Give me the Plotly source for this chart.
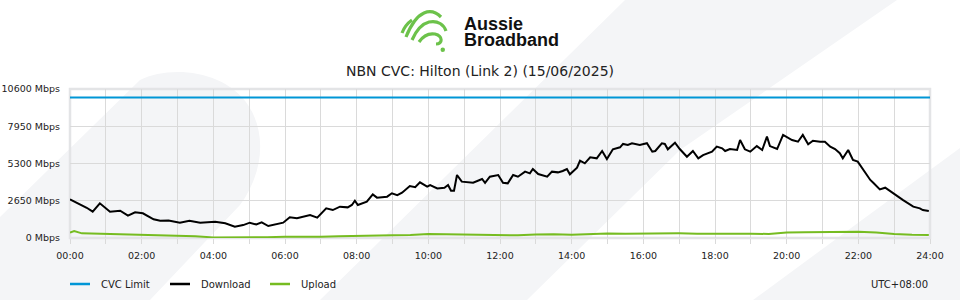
import plotly.graph_objects as go

# ---------------- data ----------------
download_times = ["00:00","00:15","00:28","00:38","00:50","01:07","01:24","01:37","01:49","02:02",
    "02:20","02:31","02:45","03:04","03:20","03:38","04:03","04:20","04:36","04:50","05:01","05:12",
    "05:21","05:32","05:45","05:57","06:08","06:20","06:42","06:54","07:09","07:20","07:32","07:45",
    "07:52","07:57","08:02","08:17","08:27","08:34","08:51","08:59","09:08","09:16","09:29","09:38",
    "09:46","09:58","10:03","10:15","10:27","10:33","10:38","10:43","10:48","10:56","11:15","11:30",
    "11:35","11:43","11:57","12:05","12:13","12:22","12:30","12:42","12:50","12:55","13:04","13:19",
    "13:27","13:37","13:45","13:52","13:57","14:09","14:14","14:22","14:31","14:42","14:51","14:59",
    "15:09","15:21","15:26","15:34","15:41","15:54","16:06","16:15","16:20","16:31","16:36","16:41",
    "16:53","17:01","17:13","17:23","17:32","17:40","17:55","18:03","18:12","18:17","18:25","18:37",
    "18:42","18:50","18:59","19:10","19:19","19:27","19:32","19:44","19:54","20:02","20:09","20:19",
    "20:27","20:36","20:44","20:56","21:04","21:13","21:21","21:29","21:34","21:43","21:51","21:59",
    "22:08","22:20","22:25","22:36","22:45","22:58","23:15","23:32","23:43","23:48","23:58"]
download = [2750,2450,2150,1870,2470,1870,1940,1590,1830,1760,
    1330,1230,1250,1090,1230,1090,1160,1050,800,920,1090,960,
    1110,850,1000,1090,1470,1400,1640,1450,2110,1990,2230,2180,
    2350,2650,2350,2580,3100,2870,2940,3180,3050,3220,3700,3610,
    3960,3650,3770,3530,3580,3770,3360,3360,4480,4010,3930,4200,
    3930,4360,4480,3930,3890,4480,4360,4720,4600,4910,4550,4360,
    4720,4670,4770,4910,4530,5000,5500,5310,5740,5670,6190,5620,
    6310,6450,6690,6620,6740,6620,6740,6140,6190,6740,6690,6310,
    6780,6330,5780,6190,5670,5900,6140,6500,6380,6190,6330,6260,
    6970,6310,6140,6540,6260,7210,6540,6330,7330,7140,6970,6850,
    7330,6670,6920,6850,6850,6500,6330,6030,5670,6260,5550,5430,
    4840,4130,3930,3460,3580,3180,2700,2230,2110,1990,1920]

upload_times = ["00:00","00:07","00:20","00:45","01:10","01:30","02:00","02:30","03:00","03:30",
    "04:00","04:30","05:00","05:30","06:00","06:30","07:00","07:30","08:00","08:30","09:00","09:30",
    "10:00","10:30","11:00","11:30","12:00","12:30","13:00","13:30","14:00","14:30","15:00","15:30",
    "16:00","16:30","17:00","17:30","18:00","18:30","19:00","19:30","20:00","20:30","21:00","21:30",
    "22:00","22:30","23:00","23:30","23:58"]
upload = [380,500,330,300,280,260,220,200,150,130,
    40,30,50,60,90,80,90,120,160,170,190,210,
    280,270,250,180,170,190,250,270,230,300,320,310,
    330,320,330,310,320,340,300,290,400,410,420,470,
    440,400,280,230,210]

cvc_times = ["00:00", "24:00"]
cvc_limit = [10000, 10000]

y_ticks = [0, 2650, 5300, 7950, 10600]
y_tick_labels = ["0 Mbps", "2650 Mbps", "5300 Mbps", "7950 Mbps", "10600 Mbps"]
x_ticks = list(range(0, 25, 2))
x_tick_labels = ["00:00","02:00","04:00","06:00","08:00","10:00","12:00","14:00",
                 "16:00","18:00","20:00","22:00","24:00"]

title_text = "NBN CVC: Hilton (Link 2) (15/06/2025)"
series_names = ["CVC Limit", "Download", "Upload"]
series_colors = ["#0096d6", "#000000", "#76bc21"]

# ---------------- layout helpers ----------------
W, H = 960, 300
ML, MR, MT, MB = 70, 30, 89, 62
PW, PH = W - ML - MR, H - MT - MB


def hours(t):
    h, m = t.split(":")
    return int(h) + int(m) / 60.0


def px(x, y):
    return (x - ML) / PW, (H - MB - y) / PH


def path(points, close=True):
    out = []
    for p in points:
        if p[0] == "C":
            a = px(*p[1]); b = px(*p[2]); c = px(*p[3])
            out.append("C %.5f,%.5f %.5f,%.5f %.5f,%.5f" % (a[0], a[1], b[0], b[1], c[0], c[1]))
        elif p[0] == "Q":
            a = px(*p[1]); b = px(*p[2])
            out.append("Q %.5f,%.5f %.5f,%.5f" % (a[0], a[1], b[0], b[1]))
        else:
            a = px(*p[1])
            out.append("%s %.5f,%.5f" % (p[0], a[0], a[1]))
    s = " ".join(out)
    return s + (" Z" if close else "")


FONT = "DejaVu Sans"
TXT = "#222222"
GRID = "#dadada"
BG = "#f4f5f7"
LOGO_GREEN = "#6cc24a"

fig = go.Figure()
for name, color, tx, ty in [
    (series_names[0], series_colors[0], cvc_times, cvc_limit),
    (series_names[1], series_colors[1], download_times, download),
    (series_names[2], series_colors[2], upload_times, upload),
]:
    fig.add_trace(go.Scatter(x=[hours(t) for t in tx], y=ty, mode="lines", name=name,
                             line=dict(color=color, width=2), hoverinfo="skip"))

shapes = []
# background decorative shapes
shapes.append(dict(type="path", xref="paper", yref="paper", layer="below",
    path=path([("M", (0, 217)), ("L", (140, 80)), ("C", (170, 65), (225, 70), (248, 105)),
               ("C", (268, 135), (262, 175), (240, 205)), ("L", (150, 300)), ("L", (0, 300))]),
    fillcolor=BG, line=dict(width=0)))
shapes.append(dict(type="path", xref="paper", yref="paper", layer="below",
    path=path([("M", (320, 300)), ("L", (625, 0)), ("L", (897, 0)), ("L", (680, 150)), ("L", (527, 300))]),
    fillcolor=BG, line=dict(width=0)))
shapes.append(dict(type="path", xref="paper", yref="paper", layer="below",
    path=path([("M", (753, 300)), ("L", (960, 148)), ("L", (960, 300))]),
    fillcolor=BG, line=dict(width=0)))
# plot border
shapes.append(dict(type="rect", xref="paper", yref="paper", layer="below", x0=0, x1=1, y0=0, y1=1,
                   line=dict(color="#e3e4e6", width=2.5), fillcolor="rgba(0,0,0,0)"))
# logo swirl
for pts in [
    [("M", (402, 33)), ("Q", (405, 25), (412, 20))],
    [("M", (406, 37)), ("C", (410, 27), (415, 17), (424, 13)), ("C", (431, 10), (437, 13), (441, 17))],
    [("M", (412, 40)), ("C", (416, 31), (421, 24), (429, 22)), ("C", (438, 20), (444, 25), (446, 31))],
    [("M", (419, 42)), ("C", (423, 36), (429, 33), (435, 34)), ("C", (443, 36), (443, 44), (436, 44))],
]:
    shapes.append(dict(type="path", xref="paper", yref="paper", path=path(pts, close=False),
                       line=dict(color=LOGO_GREEN, width=3.2), fillcolor="rgba(0,0,0,0)"))
c0 = px(440.5, 47.5); c1 = px(445, 52)
shapes.append(dict(type="circle", xref="paper", yref="paper", x0=c0[0], y0=c0[1], x1=c1[0], y1=c1[1],
                   fillcolor=LOGO_GREEN, line=dict(width=0)))

annotations = []
# legend (manual)
legend_x = [70, 170, 270]
for name, color, lx in zip(series_names, series_colors, legend_x):
    a = px(lx, 284); b = px(lx + 20, 284)
    shapes.append(dict(type="line", xref="paper", yref="paper", x0=a[0], y0=a[1], x1=b[0], y1=b[1],
                       line=dict(color=color, width=2.5)))
    t = px(lx + 29, 284)
    annotations.append(dict(x=t[0], y=t[1], xref="paper", yref="paper", text=name, showarrow=False,
                            xanchor="left", yanchor="middle", font=dict(family=FONT, size=10, color=TXT)))
u = px(930, 284)
annotations.append(dict(x=u[0], y=u[1], xref="paper", yref="paper", text="UTC+08:00", showarrow=False,
                        xanchor="right", yanchor="middle", font=dict(family=FONT, size=10, color=TXT)))
tt = px(480, 71)
annotations.append(dict(x=tt[0], y=tt[1], xref="paper", yref="paper", text=title_text, showarrow=False,
                        xanchor="center", yanchor="middle", font=dict(family=FONT, size=14, color=TXT)))
for txt, yy in [("Aussie", 24.5), ("Broadband", 39.5)]:
    p = px(462, yy)
    annotations.append(dict(x=p[0], y=p[1], xref="paper", yref="paper", text="<b>%s</b>" % txt,
                            showarrow=False, xanchor="left", yanchor="middle",
                            font=dict(family="Liberation Sans", size=18, color="#111111")))

fig.update_layout(
    width=W, height=H, margin=dict(l=ML, r=MR, t=MT, b=MB, autoexpand=False),
    paper_bgcolor="white", plot_bgcolor="rgba(0,0,0,0)",
    showlegend=False, shapes=shapes, annotations=annotations,
    font=dict(family=FONT, size=10, color=TXT),
    xaxis=dict(range=[0, 24], tickmode="array", tickvals=x_ticks, ticktext=x_tick_labels,
               showgrid=True, gridcolor=GRID, gridwidth=1, zeroline=False, showline=False,
               ticks="outside", ticklen=5, tickcolor=GRID, automargin=False, ticklabelstandoff=4,
               minor=dict(tickmode="linear", tick0=0, dtick=1, showgrid=True, gridcolor=GRID,
                          ticks="outside", ticklen=5, tickcolor=GRID),
               tickfont=dict(family=FONT, size=9.5, color=TXT), fixedrange=True),
    yaxis=dict(range=[0, 10600], tickmode="array", tickvals=y_ticks, ticktext=y_tick_labels,
               showgrid=True, gridcolor=GRID, gridwidth=1, zeroline=False, showline=False,
               ticks="", ticklabelstandoff=9, automargin=False,
               tickfont=dict(family=FONT, size=9.5, color=TXT), fixedrange=True),
)

fig.write_html("out.html")
